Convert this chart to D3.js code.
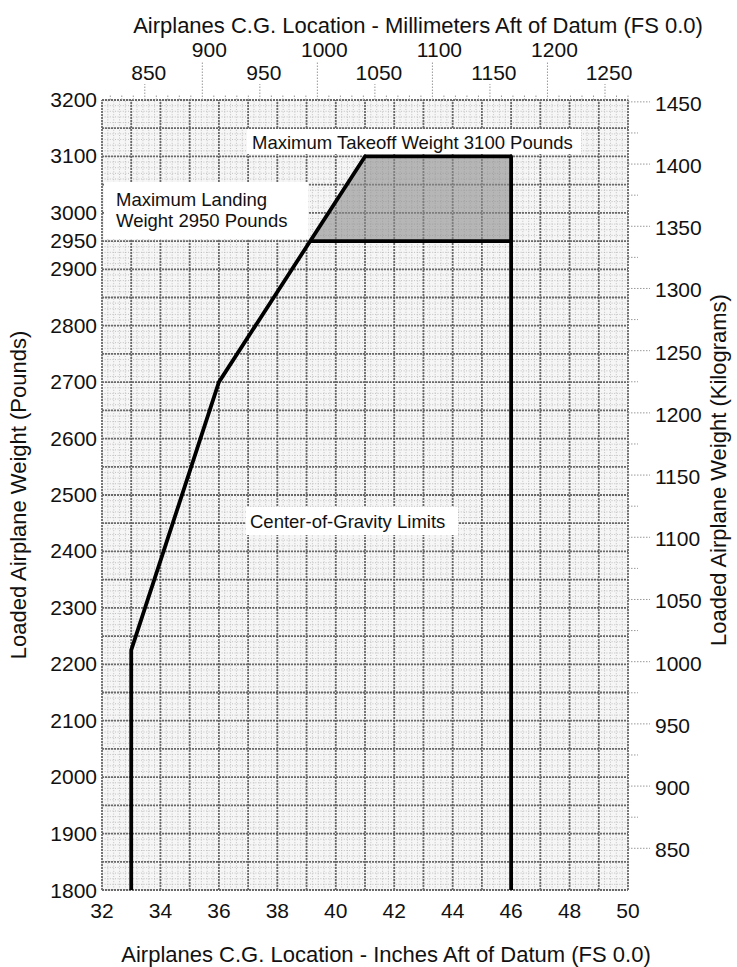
<!DOCTYPE html>
<html><head><meta charset="utf-8">
<script src="https://cdn.jsdelivr.net/npm/d3@7"></script>
<style>
html,body{margin:0;padding:0;background:#fff;}
text{font-family:"Liberation Sans",Arial,Helvetica,sans-serif;fill:#111;}
</style></head>
<body>
<svg id="c" width="737" height="967"></svg>
<script>
// ---- data ----
const inchTicks = [32,34,36,38,40,42,44,46,48,50];
const lbTicks = [1800,1900,2000,2100,2200,2300,2400,2500,2600,2700,2800,2900,2950,3000,3100,3200];
const mmTicksLow = [850,950,1050,1150,1250];
const mmTicksHigh = [900,1000,1100,1200];
const kgTicks = [850,900,950,1000,1050,1100,1150,1200,1250,1300,1350,1400,1450];
// CG envelope (inches aft of datum, pounds)
const envX = [33, 33, 36, 41, 46, 46];
const envW = [1800, 2225, 2700, 3100, 3100, 1800];
// Shaded region between max landing and max takeoff weight
const shadeX = [39.125, 41, 46, 46];
const shadeW = [2950, 3100, 3100, 2950];
// landing weight line
const landX = [39.125, 46];
const landW = [2950, 2950];

const svg = d3.select("#c");
const x = d3.scaleLinear().domain([32,50]).range([102,628]);
const y = d3.scaleLinear().domain([1800,3200]).range([890,100]);
const LB_PER_KG = 2.20462, MM_PER_IN = 25.4;
const xm = mm => x(mm/MM_PER_IN);
const yk = kg => y(kg*LB_PER_KG);

// ---- graph-paper grid ----
const g = svg.append("g");
g.append("rect").attr("x", x(32)).attr("y", y(3200)).attr("width", x(50)-x(32)).attr("height", y(1800)-y(3200))
  .attr("fill", "#f6f6f6");
const minorX = d3.range(32, 50.001, 0.2);
const minorY = d3.range(1800, 3200.001, 10);
g.selectAll("line.mx").data(minorX).join("line")
  .attr("x1", d=>x(d)).attr("x2", d=>x(d)).attr("y1", y(1800)).attr("y2", y(3200))
  .attr("stroke", "#b4b4b4").attr("stroke-width", 0.8).attr("stroke-dasharray", "1,1.6");
g.selectAll("line.my").data(minorY).join("line")
  .attr("y1", d=>y(d)).attr("y2", d=>y(d)).attr("x1", x(32)).attr("x2", x(50))
  .attr("stroke", "#b4b4b4").attr("stroke-width", 0.8).attr("stroke-dasharray", "1,1.6");
const majorX = d3.range(32, 50.001, 1);
const majorY = d3.range(1800, 3200.001, 50);
g.selectAll("line.Mx").data(majorX).join("line")
  .attr("x1", d=>x(d)).attr("x2", d=>x(d)).attr("y1", y(1800)).attr("y2", y(3200))
  .attr("stroke", "#6a6a6a").attr("stroke-width", 1.8).attr("stroke-dasharray", "2,1");
g.selectAll("line.My").data(majorY).join("line")
  .attr("y1", d=>y(d)).attr("y2", d=>y(d)).attr("x1", x(32)).attr("x2", x(50))
  .attr("stroke", "#6a6a6a").attr("stroke-width", 1.8).attr("stroke-dasharray", "2,1");

// ---- shaded region ----
const pts = (xs, ws) => xs.map((v,i)=>[x(v), y(ws[i])]);
svg.append("path").attr("d", d3.line()(pts(shadeX, shadeW)) + "Z")
  .attr("fill", "#8c8c8c").attr("fill-opacity", 0.6);

// ---- label boxes ----
function box(x0, y0, w, h){
  svg.append("rect").attr("x", x0).attr("y", y0).attr("width", w).attr("height", h).attr("fill", "#fff");
}
box(247, 129, 334, 25);
box(104, 182, 204, 57);
box(246, 507, 212, 28);

// ---- envelope ----
svg.append("path").attr("d", d3.line()(pts(envX, envW)))
  .attr("fill", "none").attr("stroke", "#000").attr("stroke-width", 3.8).attr("stroke-linejoin", "round");
svg.append("path").attr("d", d3.line()(pts(landX, landW)))
  .attr("fill", "none").attr("stroke", "#000").attr("stroke-width", 3.8);

// ---- text labels ----
const fs = 18.5;
svg.append("text").attr("x", 252).attr("y", 149).attr("font-size", fs).text("Maximum Takeoff Weight 3100 Pounds");
svg.append("text").attr("x", 116).attr("y", 206).attr("font-size", fs).text("Maximum Landing");
svg.append("text").attr("x", 116).attr("y", 227).attr("font-size", fs).text("Weight 2950 Pounds");
svg.append("text").attr("x", 250).attr("y", 528).attr("font-size", fs).text("Center-of-Gravity Limits");

// ---- axes ----
const tf = 21;
// bottom (inches)
svg.selectAll("text.bx").data(inchTicks).join("text")
  .attr("x", d=>x(d)).attr("y", 918).attr("text-anchor", "middle").attr("font-size", tf).text(d=>d);
// left (pounds)
svg.selectAll("text.ly").data(lbTicks).join("text")
  .attr("x", 97).attr("y", d=>y(d) + (d===1800 ? 8 : 7)).attr("text-anchor", "end").attr("font-size", tf).text(d=>d);
// right (kg) ticks + labels
const kgMinor = d3.range(850, 1450.001, 25);
svg.selectAll("line.rk").data(kgMinor).join("line")
  .attr("x1", x(50)).attr("x2", d=> d%50===0 ? 650 : 638)
  .attr("y1", d=>yk(d)).attr("y2", d=>yk(d))
  .attr("stroke", "#999").attr("stroke-width", 1).attr("stroke-dasharray", "1.5,1.5");
svg.selectAll("text.rk").data(kgTicks).join("text")
  .attr("x", 655).attr("y", d=>yk(d) + 9).attr("text-anchor", "start").attr("font-size", tf).text(d=>d);
// top (mm) ticks + labels
const mmMinor = d3.range(820, 1270.001, 10);
svg.selectAll("line.tm").data(mmMinor).join("line")
  .attr("x1", d=>xm(d)).attr("x2", d=>xm(d)).attr("y1", y(3200))
  .attr("y2", d=> d%100===0 ? 62 : (d%50===0 ? 84 : 94))
  .attr("stroke", "#999").attr("stroke-width", 1).attr("stroke-dasharray", "1.5,1.5");
svg.selectAll("text.tl").data(mmTicksLow).join("text")
  .attr("x", d=>xm(d)+4).attr("y", 80).attr("text-anchor", "middle").attr("font-size", tf).text(d=>d);
svg.selectAll("text.th").data(mmTicksHigh).join("text")
  .attr("x", d=>xm(d)+7).attr("y", 57).attr("text-anchor", "middle").attr("font-size", tf).text(d=>d);

// ---- axis titles ----
svg.append("text").attr("x", 418).attr("y", 33).attr("text-anchor", "middle").attr("font-size", 22)
  .text("Airplanes C.G. Location - Millimeters Aft of Datum (FS 0.0)");
svg.append("text").attr("x", 386).attr("y", 962).attr("text-anchor", "middle").attr("font-size", 22)
  .text("Airplanes C.G. Location - Inches Aft of Datum (FS 0.0)");
svg.append("text").attr("transform", "translate(26,495) rotate(-90)").attr("text-anchor", "middle").attr("font-size", 22)
  .text("Loaded Airplane Weight (Pounds)");
svg.append("text").attr("transform", "translate(726,470) rotate(-90)").attr("text-anchor", "middle").attr("font-size", 22)
  .text("Loaded Airplane Weight (Kilograms)");
</script>
</body></html>
